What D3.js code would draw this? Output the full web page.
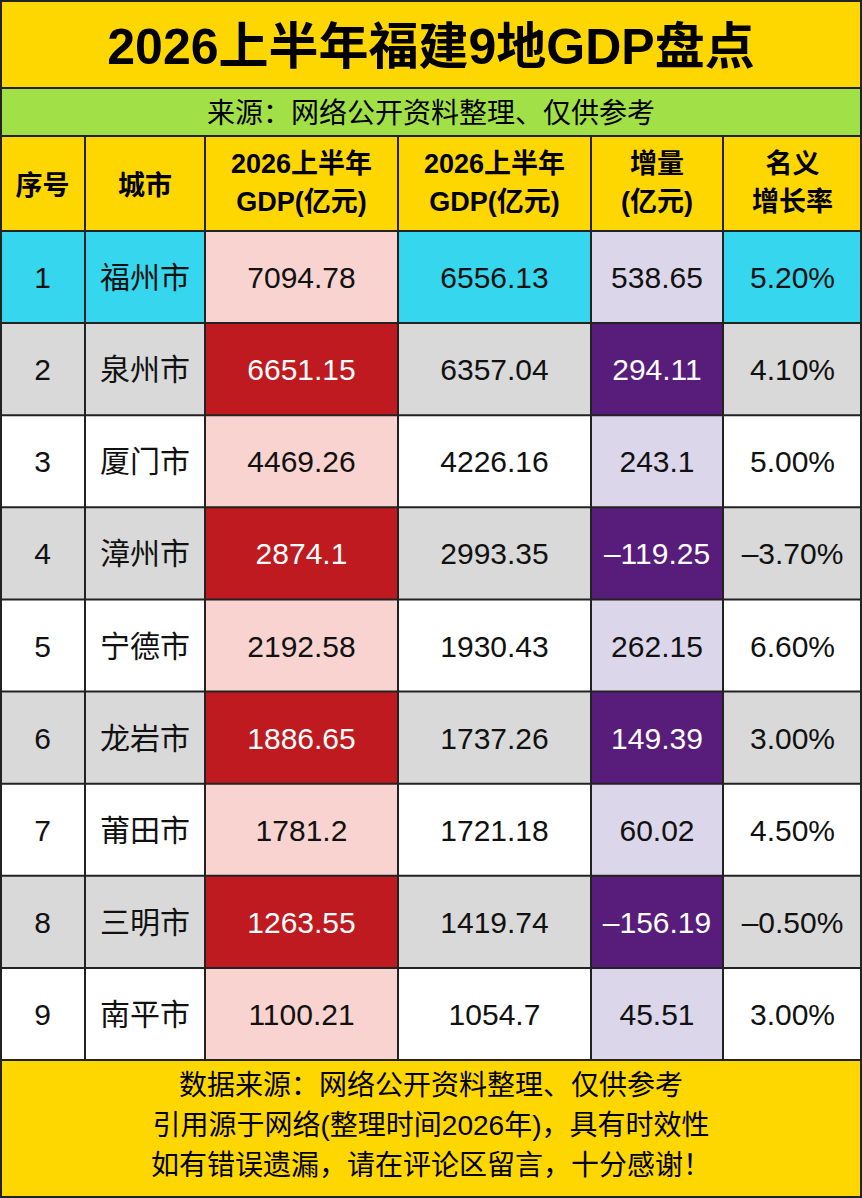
<!DOCTYPE html><html><head><meta charset="utf-8"><script src="https://cdn.jsdelivr.net/npm/d3@7"></script>
<style>body{margin:0;background:#fff}</style></head><body><svg id="c" width="862" height="1198"></svg>
<script>
const title="2026上半年福建9地GDP盘点";
const subtitle="来源：网络公开资料整理、仅供参考";
const headers=[["序号"],["城市"],["2026上半年","GDP(亿元)"],["2026上半年","GDP(亿元)"],["增量","(亿元)"],["名义","增长率"]];
const ranks=["1","2","3","4","5","6","7","8","9"];
const cities=["福州市","泉州市","厦门市","漳州市","宁德市","龙岩市","莆田市","三明市","南平市"];
const gdpNow=["7094.78","6651.15","4469.26","2874.1","2192.58","1886.65","1781.2","1263.55","1100.21"];
const gdpPrev=["6556.13","6357.04","4226.16","2993.35","1930.43","1737.26","1721.18","1419.74","1054.7"];
const incr=["538.65","294.11","243.1","–119.25","262.15","149.39","60.02","–156.19","45.51"];
const rate=["5.20%","4.10%","5.00%","–3.70%","6.60%","3.00%","4.50%","–0.50%","3.00%"];
const footer=["数据来源：网络公开资料整理、仅供参考","引用源于网络(整理时间2026年)，具有时效性","如有错误遗漏，请在评论区留言，十分感谢！"];

const svg=d3.select("#c");
const F="'Liberation Sans','Noto Sans CJK SC',sans-serif";
const colEdges=[0,85,205,398,591,723,862];
const xe=i=>colEdges[i];
const y=d3.scaleLinear().domain([0,9]).range([231,1060]);
svg.append("rect").attr("width",862).attr("height",1198).attr("fill","#FFD700");
svg.append("rect").attr("x",0).attr("y",88).attr("width",862).attr("height",48).attr("fill","#A2E048");
svg.append("text").attr("x",431).attr("y",64).attr("text-anchor","middle").attr("font-family",F).attr("font-weight","bold").attr("font-size",50).text(title);
svg.append("text").attr("x",431).attr("y",123).attr("text-anchor","middle").attr("font-family",F).attr("font-size",28).text(subtitle);
headers.forEach((h,i)=>{
  const cx=(xe(i)+xe(i+1))/2;
  h.forEach((t,j)=>svg.append("text").attr("x",cx).attr("y",h.length==1?195:173+j*38).attr("text-anchor","middle").attr("font-family",F).attr("font-weight","bold").attr("font-size",27).text(t));
});
const cols=[ranks,cities,gdpNow,gdpPrev,incr,rate];
ranks.forEach((r,ri)=>{
  const base=ri==0?"#36D7EE":(ri%2==1?"#D9D9D9":"#FFFFFF");
  cols.forEach((c,ci)=>{
    let fill=base,tc="#111";
    if(ci==2){fill=ri%2==1?"#BE1A20":"#F9D3CF";if(ri%2==1)tc="#fff";}
    if(ci==4){fill=ri%2==1?"#581D7A":"#DCD6EA";if(ri%2==1)tc="#fff";}
    svg.append("rect").attr("x",xe(ci)).attr("y",y(ri)).attr("width",xe(ci+1)-xe(ci)).attr("height",y(ri+1)-y(ri)).attr("fill",fill);
    svg.append("text").attr("x",(xe(ci)+xe(ci+1))/2).attr("y",(y(ri)+y(ri+1))/2+11).attr("text-anchor","middle").attr("font-family",F).attr("font-size",30).attr("fill",tc).text(c[ri]);
  });
});
const g=svg.append("g").attr("stroke","#222").attr("stroke-width",2);
[88,136].forEach(v=>g.append("line").attr("x1",0).attr("x2",862).attr("y1",v).attr("y2",v));
d3.range(10).forEach(i=>g.append("line").attr("x1",0).attr("x2",862).attr("y1",y(i)).attr("y2",y(i)));
colEdges.forEach(v=>g.append("line").attr("x1",v).attr("x2",v).attr("y1",136).attr("y2",1060));
g.append("rect").attr("x",1).attr("y",1).attr("width",860).attr("height",1196).attr("fill","none");
footer.forEach((t,i)=>svg.append("text").attr("x",431).attr("y",1095+i*40).attr("text-anchor","middle").attr("font-family",F).attr("font-size",28).text(t));
</script></body></html>
